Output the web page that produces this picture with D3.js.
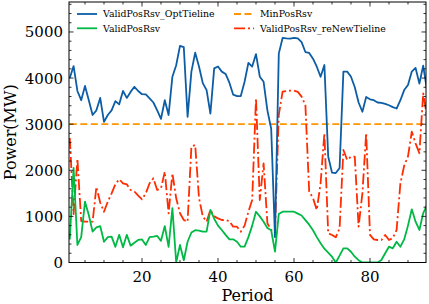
<!DOCTYPE html>
<html>
<head>
<meta charset="utf-8">
<script src="https://cdn.jsdelivr.net/npm/d3@7"></script>
<style>
  body { margin: 0; background: #fff; }
  text { font-family: "DejaVu Serif", serif; fill: #000; }
</style>
</head>
<body>
<div id="vis"></div>
<script>
const width = 429;
const height = 304;

// data, one value per period 1..96
const periods = d3.range(1, 97);
const optTieline = [
  4000, 4260, 3720, 3520, 3830, 3520, 3200, 3300, 3570, 3050,
  3200, 3300, 3500, 3430, 3720, 3570, 3700, 3810, 3720, 3650,
  3645, 3560, 3470, 3300, 3115, 3520, 3200, 4030, 4280, 4700,
  4670, 3160, 4140, 4550, 4250, 3890, 3740, 3230, 4210, 4250,
  4140, 4090, 3900, 3640, 3610, 3610, 3920, 4330, 4250, 4520,
  4030, 3920, 3300, 2900, 550, 4530, 4870, 4860, 4855, 4870,
  4860, 4780, 4565, 4545, 4420, 4246, 4028, 4283, 2300, 1950,
  1940, 2050, 4140, 4140, 4030, 3800, 3470, 3270, 3590, 3540,
  3520, 3470, 3460, 3440, 3410, 3370, 3340, 3520, 3740, 3850,
  4140, 4220, 3880, 4270, 3740, 3500
];
const validPosRsv = [
  500, 2050, 380, 550, 1320, 1030, 670, 760, 790, 450,
  550, 560, 340, 600, 330, 600, 365, 430, 490, 500,
  380, 550, 560, 575, 470, 790, 340, 1180, 0, 380,
  50, 450, 650, 700, 690, 668, 668, 1140, 950, 800,
  705, 600, 503, 503, 451, 343, 343, 550, 800, 1100,
  1000, 885, 750, 700, 234, 1050, 1102, 1102, 1102, 1102,
  1060, 1020, 920, 820, 700, 550, 416, 300, 213, 126,
  0, 150, 308, 308, 234, 126, 50, 0, 0, 0,
  0, 0, 54, 200, 343, 308, 451, 343, 500, 800,
  1154, 885, 705, 1067, 1247, 1300
];
const reNewTieline = [
  2700, 1050, 2250, 900, 885, 885, 885, 1640, 1300, 1100,
  1320, 1500, 1700, 1805, 1718, 1696, 1573, 1540, 1450, 1371,
  1501, 1718, 1826, 1573, 1610, 1970, 1067, 1935, 1393, 1067,
  922, 885, 2512, 2549, 1400, 1000, 885, 1139, 1000, 958,
  922, 922, 900, 777, 777, 668, 800, 1100, 1356, 3562,
  1356, 2152, 850, 705, 668, 3200, 3705, 3720, 3727, 3727,
  3700, 3597, 3416, 1536, 1400, 1139, 1718, 2802, 633, 597,
  547, 742, 2440, 2223, 2295, 2295, 777, 1501, 2802, 600,
  500, 488, 488, 597, 488, 530, 705, 1718, 2100, 2300,
  2837, 2585, 2369, 3670, 3163, 2900
];
const minPosRsv = 3000;

const xMajor = [20, 40, 60, 80];
const yMajor = [0, 1000, 2000, 3000, 4000, 5000];

const margin = { left: 69, right: 3, top: 2, bottom: 41.5 };
const x0 = margin.left, x1 = width - margin.right;
const y0 = margin.top, y1 = height - margin.bottom;

const x = d3.scaleLinear().domain([0.79, 94.74]).range([x0, x1]);
const y = d3.scaleLinear().domain([0, 5650]).range([y1, y0]);

const svg = d3.select("#vis")
  .append("svg")
  .attr("width", width)
  .attr("height", height);

svg.append("clipPath").attr("id", "clip")
  .append("rect")
  .attr("x", x0).attr("y", y0)
  .attr("width", x1 - x0).attr("height", y1 - y0);

const plot = svg.append("g").attr("clip-path", "url(#clip)");

const line = d3.line()
  .x((d, i) => x(periods[i]))
  .y(d => y(d));

// orange constant line
plot.append("path")
  .datum(periods.map(() => minPosRsv))
  .attr("d", line)
  .attr("fill", "none")
  .attr("stroke", "#FF9500")
  .attr("stroke-width", 1.8)
  .attr("stroke-dasharray", "7,3.5");

const series = [
  { data: reNewTieline, color: "#FF2C00", dash: "11,3,2,3" },
  { data: optTieline, color: "#0C5DA5", dash: null },
  { data: validPosRsv, color: "#00B945", dash: null }
];

series.forEach(s => {
  plot.append("path")
    .datum(s.data)
    .attr("d", line)
    .attr("fill", "none")
    .attr("stroke", s.color)
    .attr("stroke-width", 1.8)
    .attr("stroke-linejoin", "round")
    .attr("stroke-dasharray", s.dash);
});

// frame
svg.append("rect")
  .attr("x", x0).attr("y", y0)
  .attr("width", x1 - x0).attr("height", y1 - y0)
  .attr("fill", "none")
  .attr("stroke", "#000")
  .attr("stroke-width", 1);

// inward ticks on all sides
const ticks = svg.append("g").attr("stroke", "#000").attr("stroke-width", 0.8);
const xMinor = d3.range(5, 95, 5).filter(v => !xMajor.includes(v));
const yMinor = d3.range(200, 5650, 200).filter(v => v % 1000 !== 0);

function xTicks(vals, len) {
  vals.forEach(v => {
    ticks.append("line").attr("x1", x(v)).attr("x2", x(v)).attr("y1", y1).attr("y2", y1 - len);
    ticks.append("line").attr("x1", x(v)).attr("x2", x(v)).attr("y1", y0).attr("y2", y0 + len);
  });
}
function yTicks(vals, len) {
  vals.forEach(v => {
    ticks.append("line").attr("x1", x0).attr("x2", x0 + len).attr("y1", y(v)).attr("y2", y(v));
    ticks.append("line").attr("x1", x1).attr("x2", x1 - len).attr("y1", y(v)).attr("y2", y(v));
  });
}
xTicks(xMajor, 4.5);
xTicks(xMinor, 2.5);
yTicks(yMajor, 4.5);
yTicks(yMinor, 2.5);

// tick labels
svg.append("g").selectAll("text")
  .data(xMajor)
  .join("text")
  .attr("x", d => x(d))
  .attr("y", y1 + 19)
  .attr("text-anchor", "middle")
  .attr("font-size", 15)
  .text(d => d);

svg.append("g").selectAll("text")
  .data(yMajor)
  .join("text")
  .attr("x", x0 - 6)
  .attr("y", d => y(d) + 5.5)
  .attr("text-anchor", "end")
  .attr("font-size", 15)
  .text(d => d);

// axis titles
svg.append("text")
  .attr("x", (x0 + x1) / 2)
  .attr("y", 301)
  .attr("text-anchor", "middle")
  .attr("font-size", 16)
  .text("Period");

svg.append("text")
  .attr("transform", `translate(15.5,${(y0 + y1) / 2}) rotate(-90)`)
  .attr("text-anchor", "middle")
  .attr("font-size", 16)
  .text("Power(MW)");

// legend, two columns
const legendItems = [
  { label: "ValidPosRsv_OptTieline", color: "#0C5DA5", dash: null, lx: 77, ly: 14 },
  { label: "ValidPosRsv", color: "#00B945", dash: null, lx: 77, ly: 28.3 },
  { label: "MinPosRsv", color: "#FF9500", dash: "7,3.5", lx: 234, ly: 14 },
  { label: "ValidPosRsv_reNewTieline", color: "#FF2C00", dash: "11,3,2,3", lx: 234, ly: 28.3 }
];

const legend = svg.append("g");
legendItems.forEach(d => {
  legend.append("line")
    .attr("x1", d.lx).attr("x2", d.lx + 20)
    .attr("y1", d.ly).attr("y2", d.ly)
    .attr("stroke", d.color)
    .attr("stroke-width", 1.8)
    .attr("stroke-dasharray", d.dash);
  legend.append("text")
    .attr("x", d.lx + 26)
    .attr("y", d.ly + 3.3)
    .attr("font-size", 9.4)
    .text(d.label);
});
</script>
</body>
</html>
